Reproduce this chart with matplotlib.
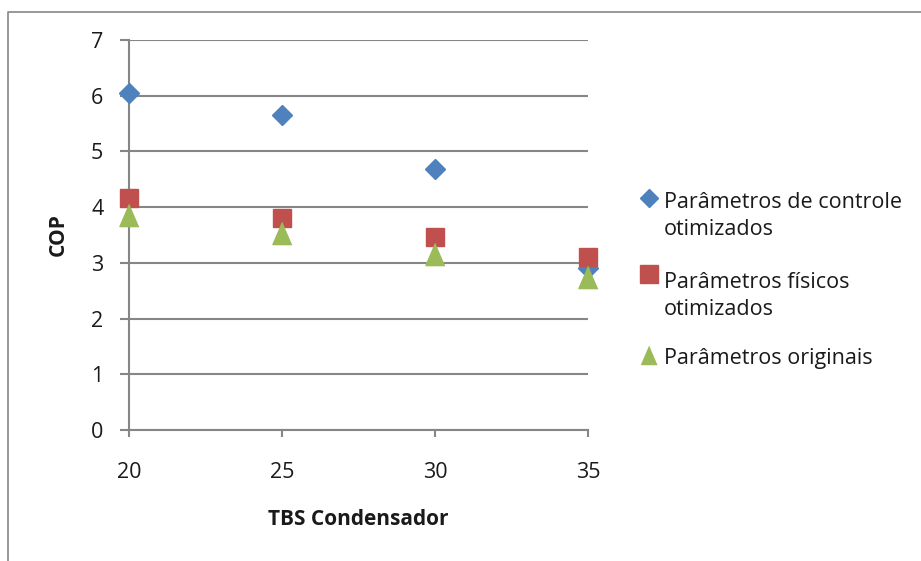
import matplotlib
matplotlib.use("Agg")
import matplotlib.pyplot as plt
from matplotlib.lines import Line2D

plt.rcParams['font.family'] = ['Open Sans', 'DejaVu Sans']

# Data
tbs_condensador = [20, 25, 30, 35]
cop_controle = [6.05, 5.65, 4.69, 2.91]
cop_fisicos = [4.17, 3.81, 3.47, 3.11]
cop_originais = [3.86, 3.54, 3.16, 2.75]

series_labels = ["Parâmetros de controle\notimizados",
                 "Parâmetros físicos\notimizados",
                 "Parâmetros originais"]
x_ticks = [20, 25, 30, 35]
y_ticks = [0, 1, 2, 3, 4, 5, 6, 7]

blue = '#4F81BD'
red = '#C0504D'
green = '#9BBB59'
grid_grey = '#868686'
text_col = '#1a1a1a'

W, H = 921, 561
fig = plt.figure(figsize=(W / 100, H / 100), dpi=100)
ax = fig.add_axes([129 / W, 1 - 430 / H, (588 - 129) / W, (430 - 40) / H])

tri = [(0, 1), (-0.86, -1), (0.86, -1)]
ax.plot(tbs_condensador, cop_controle, linestyle='none', marker='D',
        ms=10.3, color=blue, mec=blue, zorder=3, clip_on=False)
ax.plot(tbs_condensador, cop_fisicos, linestyle='none', marker='s',
        ms=13.6, color=red, mec=red, zorder=4, clip_on=False)
ax.plot(tbs_condensador, cop_originais, linestyle='none', marker=tri,
        ms=16, color=green, mec=green, zorder=5, clip_on=False)

ax.set_xlim(20, 35)
ax.set_ylim(0, 7)
ax.set_xticks(x_ticks)
ax.set_yticks(y_ticks)
ax.yaxis.grid(True, color=grid_grey, linewidth=1.5)
ax.set_axisbelow(True)
for s in ['top', 'right']:
    ax.spines[s].set_visible(False)
for s in ['left', 'bottom']:
    ax.spines[s].set_color(grid_grey)
    ax.spines[s].set_linewidth(1.5)
ax.tick_params(axis='y', direction='out', length=6.5, width=1.5,
               color=grid_grey, labelsize=15.5, labelcolor=text_col, pad=12)
ax.tick_params(axis='x', direction='out', length=5, width=1.5,
               color=grid_grey, labelsize=15.5, labelcolor=text_col, pad=18)

ax.set_xlabel("TBS Condensador", fontsize=15, fontweight='bold',
              color=text_col, labelpad=19)
ax.set_ylabel("COP", fontsize=15, fontweight='bold', color=text_col,
              labelpad=16)

# Legend entries: (last-line baseline y, marker y, marker, size, colour)
legend_rows = [(235, 198, 'D', 9.5, blue),
               (315, 274, 's', 12.5, red),
               (364, 355, tri, 13, green)]
for (yb, ym, mk, ms, col), lab in zip(legend_rows, series_labels):
    fig.add_artist(Line2D([649 / W], [1 - ym / H], marker=mk, ms=ms,
                          color=col, mec=col, linestyle='none',
                          transform=fig.transFigure))
    fig.text(664 / W, 1 - yb / H, lab, fontsize=15.5, color=text_col,
             va='baseline', ha='left', linespacing=1.35,
             multialignment='left')

# Chart frame
fig.add_artist(Line2D([8 / W, 8 / W, 1], [0, 1 - 12 / H, 1 - 12 / H],
                      color=grid_grey, linewidth=1.2,
                      transform=fig.transFigure))

fig.savefig("out.png", dpi=100)
